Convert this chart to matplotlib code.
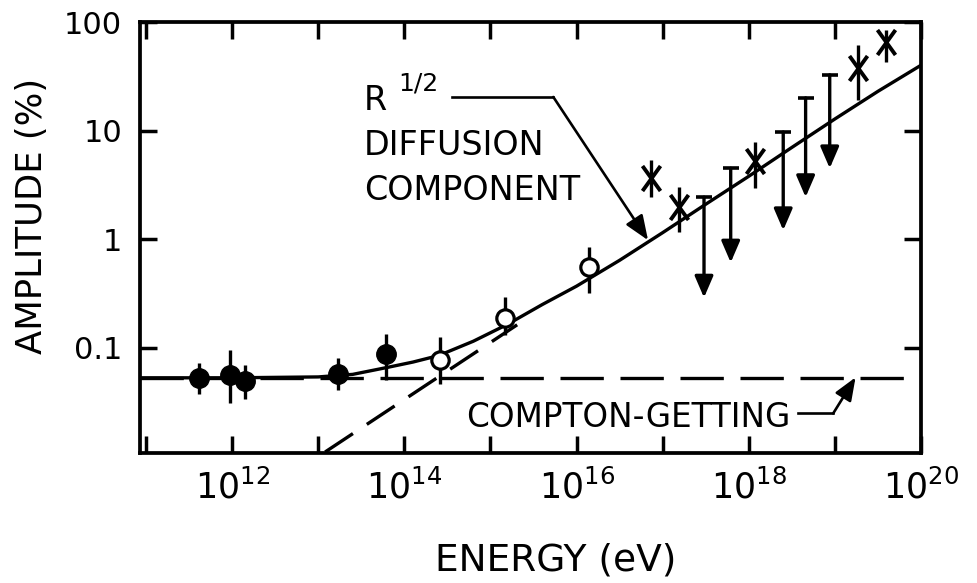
import numpy as np
import matplotlib
matplotlib.use("Agg")
import matplotlib.pyplot as plt

# Datos (log10 de la energia en eV, amplitud en %)
fill_logE = [11.62, 11.97, 12.15, 13.23, 13.79]
fill_amp = [0.053, 0.056, 0.050, 0.057, 0.088]
fill_lo = [0.038, 0.031, 0.034, 0.041, 0.051]
fill_hi = [0.072, 0.095, 0.069, 0.080, 0.134]

open_logE = [14.41, 15.17, 16.14]
open_amp = [0.078, 0.19, 0.55]
open_lo = [0.046, 0.130, 0.318]
open_hi = [0.125, 0.292, 0.84]

star_logE = [16.87, 17.19, 18.07, 19.27, 19.59]
star_amp = [3.7, 1.97, 5.3, 38, 65]
star_lo = [2.44, 1.16, 2.95, 19, 43]
star_hi = [5.35, 3.0, 7.8, 61, 84]

# limites superiores
ul_logE = [17.48, 17.79, 18.40, 18.66, 18.94]
ul_top = [2.44, 4.5, 9.7, 20, 32.6]
ul_tip = [0.29, 0.61, 1.21, 2.44, 4.5]

# curva total (solida)
curve_logE = [10.9, 12.0, 13.0, 13.4, 13.8, 14.1, 14.4, 14.8, 15.2, 15.6,
              16.0, 16.5, 17.0, 17.5, 18.0, 18.5, 19.0, 19.5, 20.0]
curve_amp = [0.053, 0.053, 0.054, 0.057, 0.066, 0.074, 0.085, 0.115, 0.165, 0.25,
             0.37, 0.64, 1.15, 2.1, 3.8, 7.0, 12.8, 23, 40]

# componente de difusion R^1/2 (trazos)
diff_logE = [13.08, 15.31]
diff_amp = [0.011, 0.163]

# Compton-Getting
cg_amp = 0.053

xtick_exp = list(range(11, 21))
xtick_lab = ['' if e % 2 else r'$10^{%d}$' % e for e in xtick_exp]
ytick_val = [0.1, 1, 10, 100]
ytick_lab = ['0.1', '1', '10', '100']

LW = 2.4

fig = plt.figure(figsize=(9.77, 5.83), dpi=100)
ax = fig.add_axes([140/977, 1-453/583, 781/977, 431/583])
ax.set_xscale('log')
ax.set_yscale('log')
ax.set_xlim(10**10.93, 1e20)
ax.set_ylim(10**-1.968, 100)

E = lambda l: 10.0**np.array(l)

ax.plot(E(curve_logE), curve_amp, '-k', lw=LW)
ax.plot(E(diff_logE), diff_amp, color='k', lw=LW, ls=(0, (10, 5)))
ax.axhline(cg_amp, color='k', lw=LW, ls=(0, (13, 5)))

def yerr(v, lo, hi):
    v = np.array(v)
    return [v - np.array(lo), np.array(hi) - v]

ax.errorbar(E(fill_logE), fill_amp, yerr=yerr(fill_amp, fill_lo, fill_hi),
            fmt='o', color='k', ms=14, elinewidth=LW, capsize=0, zorder=4)
ax.errorbar(E(open_logE), open_amp, yerr=yerr(open_amp, open_lo, open_hi),
            fmt='o', color='k', mfc='white', ms=12.5, mew=2.3, elinewidth=LW,
            capsize=0, zorder=4)

xmark = matplotlib.path.Path([(-0.72, -1), (0.72, 1), (-0.72, 1), (0.72, -1)],
                             [1, 2, 1, 2])
ax.errorbar(E(star_logE), star_amp, yerr=yerr(star_amp, star_lo, star_hi),
            fmt='none', ecolor='k', elinewidth=LW, capsize=0, zorder=4)
ax.plot(E(star_logE), star_amp, ls='none', marker=xmark, ms=18, mew=2.8,
        color='k', zorder=5)

for lx, t, b in zip(ul_logE, ul_top, ul_tip):
    ax.annotate('', xy=(10**lx, b), xytext=(10**lx, t),
                arrowprops=dict(arrowstyle='-|>,head_length=0.65,head_width=0.28',
                                color='k', lw=LW, shrinkA=0, shrinkB=0,
                                mutation_scale=20))
ax.plot(E(ul_logE), ul_top, ls='none', marker='_', ms=11, mew=2.6, color='k')

# anotaciones
ax.text(10**13.53, 10**1.189, 'R', fontsize=24, va='baseline', ha='left')
ax.text(10**13.93, 10**1.373, '1/2', fontsize=18, va='baseline', ha='left')
ax.text(10**13.53, 10**0.774, 'DIFFUSION', fontsize=24, va='baseline', ha='left')
ax.text(10**13.53, 10**0.359, 'COMPONENT', fontsize=24, va='baseline', ha='left')
ax.plot([10**14.555, 10**15.73], [20.4, 20.4], '-k', lw=1.9)
ax.annotate('', xy=(10**16.83, 0.98), xytext=(10**15.73, 20.4),
            arrowprops=dict(arrowstyle='-|>,head_length=0.75,head_width=0.3',
                            color='k', lw=1.9, shrinkA=0, shrinkB=0,
                            mutation_scale=20))

ax.text(10**14.718, 10**-1.733, 'COMPTON-GETTING', fontsize=23.5,
        va='baseline', ha='left')
ax.plot([10**18.57, 10**18.98], [0.0249, 0.0249], '-k', lw=1.9)
ax.annotate('', xy=(10**19.24, 0.0535), xytext=(10**18.98, 0.0249),
            arrowprops=dict(arrowstyle='-|>,head_length=0.7,head_width=0.28',
                            color='k', lw=1.9, shrinkA=0, shrinkB=0,
                            mutation_scale=20))

ax.set_xticks(E(xtick_exp))
ax.set_xticklabels(xtick_lab)
ax.set_yticks(ytick_val)
ax.set_yticklabels(ytick_lab)
ax.minorticks_off()
ax.tick_params(which='both', direction='in', top=True, right=True,
               length=12, width=2.5, labelsize=22)
ax.tick_params(axis='y', pad=13)
ax.tick_params(axis='x', pad=12, labelsize=25)
for s in ax.spines.values():
    s.set_linewidth(2.7)

ax.set_xlabel('ENERGY (eV)', fontsize=27)
ax.xaxis.label.set_va('center')
ax.xaxis.set_label_coords((556-140)/781, (453-560)/431)
ax.set_ylabel('AMPLITUDE (%)', fontsize=25.5)
ax.yaxis.label.set_va('center')
ax.yaxis.set_label_coords((32-140)/781, (453-216)/431)

plt.savefig('out.png', dpi=100)
